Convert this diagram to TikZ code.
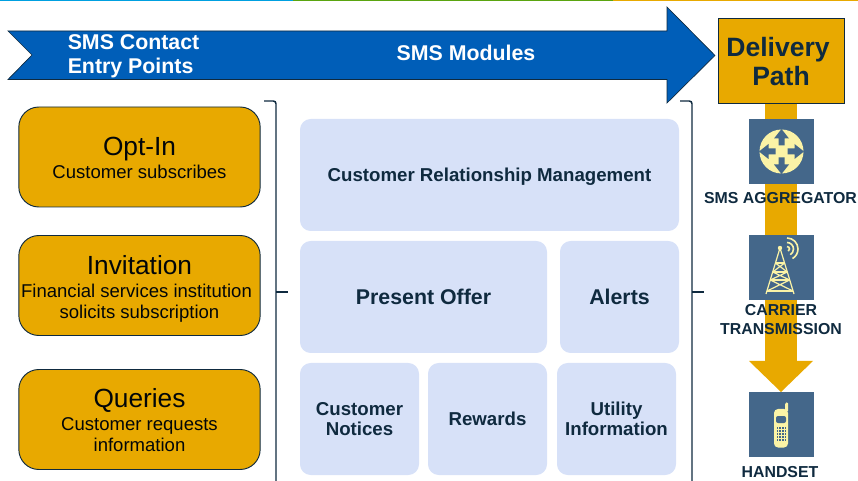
\documentclass[tikz,border=0pt]{standalone}
\usepackage{fontspec}
\setmainfont{Liberation Sans}
\usepackage{tikz}
\definecolor{amber}{HTML}{E8A900}
\definecolor{royal}{HTML}{005EB8}
\definecolor{ink}{HTML}{0F2A3F}
\definecolor{pale}{HTML}{D7E1F8}
\definecolor{slate}{HTML}{44678A}
\definecolor{cream}{HTML}{FBF3A6}
\definecolor{stripa}{HTML}{00A0E0}
\definecolor{stripb}{HTML}{5AA510}
\newcommand{\fs}[2]{\fontsize{#1pt}{#2pt}\selectfont}
\newcommand{\head}[2]{\rule{0pt}{#1}{\fs{19.7}{21}#2}\\[1.5pt]}
\tikzset{
  entrybox/.style={draw=ink,fill=amber,line width=.7pt,rounded corners=15pt,minimum width=181pt,minimum height=75pt,inner sep=0pt,align=center,text=black!85!ink,font=\fs{13.9}{15.75}},
  modulebox/.style={fill=pale,rounded corners=8pt,inner sep=0pt,align=center,text=ink,font=\bfseries\fs{14}{15}},
  iconbox/.style={fill=slate,minimum size=48.75pt,inner sep=0pt},
  caption/.style={align=center,text=ink,font=\bfseries\fs{11.9}{14.25},inner sep=0pt},
  banner/.style={text=white,font=\bfseries\fs{16}{18},align=left,inner sep=0pt}
}
\begin{document}
\begin{tikzpicture}[x=.75pt,y=-.75pt]
\useasboundingbox (0,0) rectangle (858,481);
% colour strip on top
\fill[stripa] (0,0) rectangle (293,1.3);
\fill[stripb] (293,0) rectangle (613,1.3);
\fill[amber] (613,0) rectangle (858,1.3);
% big arrow
\draw[draw=ink,fill=royal,line width=.5pt] (8,31) -- (667,31) -- (667,7) -- (715,55.5) -- (667,103) -- (667,79.5) -- (8,79.5) -- (32,55) -- cycle;
\node[banner,anchor=west] (entry) at (67.5,56) {SMS Contact\\Entry Points};
\node[banner] (modules) at (466,53) {SMS Modules};
% delivery path
\fill[amber] (765,100) rectangle (797,361);
\fill[amber] (749,361) -- (813,361) -- (781,392) -- cycle;
\node[draw=ink,fill=amber,line width=.7pt,minimum width=94.5pt,minimum height=63.75pt,inner sep=0pt,align=center,text=ink,font=\bfseries\fs{19.9}{22.2}] (delivery) at (781,60.5) {\rule{0pt}{16pt}Delivery\hspace*{4.5pt}\\Path};
% left boxes
\node[entrybox] (optin) at (139.5,157) {\head{15.5pt}{Opt-In}Customer subscribes};
\node[entrybox] (invite) at (139.5,285.5) {\head{19.5pt}{Invitation}\hspace*{-4.5pt}Financial services institution\\solicits subscription};
\node[entrybox] (queries) at (139.5,419.5) {\head{15.5pt}{Queries}Customer requests\\information};
% brackets
\draw[ink,line width=1.1pt,rounded corners=2pt] (264,101) -- (276,101) -- (276,481);
\draw[ink,line width=1.1pt] (276,292) -- (288,292);
\draw[ink,line width=1.1pt,rounded corners=2pt] (680,101) -- (692,101) -- (692,481);
\draw[ink,line width=1.1pt] (692,292) -- (704,292);
% module boxes
\node[modulebox,minimum width=284.25pt,minimum height=84pt,text depth=0pt] (crm) at (489.5,175) {Customer Relationship Management};
\node[modulebox,minimum width=185.25pt,minimum height=84pt,font=\bfseries\fs{16}{18}] (offer) at (423.5,297) {Present Offer};
\node[modulebox,minimum width=89.25pt,minimum height=84pt,font=\bfseries\fs{16}{18}] (alerts) at (619.5,297) {Alerts};
\node[modulebox,minimum width=89.25pt,minimum height=84pt] (notices) at (359.5,419) {Customer\\Notices};
\node[modulebox,minimum width=89.25pt,minimum height=84pt] (rewards) at (487.5,419) {Rewards};
\node[modulebox,minimum width=89.25pt,minimum height=84pt] (utility) at (616.5,419) {Utility\\Information};
% aggregator icon
\node[iconbox] (aggr) at (781.5,151.5) {};
\fill[cream] (aggr) circle (22);
\begin{scope}[shift={(aggr)}]
\foreach \a in {0,90,180,270}
  \fill[slate,rotate=\a] (6,-3) -- (13,-3) -- (13,-7.5) -- (22.5,0) -- (13,7.5) -- (13,3) -- (6,3) -- cycle;
\end{scope}
\node[caption] (aggrtext) at (780.5,198) {SMS AGGREGATOR};
% tower icon
\node[iconbox] (tower) at (781.5,267.5) {};
\begin{scope}[cream,line width=.9pt]
\draw (780,248) -- (766,294) (780,248) -- (794,294);
\draw (775.4,263) -- (784.6,263) (772.7,272) -- (787.3,272) (770.3,280) -- (789.7,280) (767,291) -- (793,291);
\draw (775.4,263) -- (787.3,272) (784.6,263) -- (772.7,272);
\draw (772.7,272) -- (789.7,280) (787.3,272) -- (770.3,280);
\draw (770.3,280) -- (793,291) (789.7,280) -- (767,291);
\fill (780,248) circle (2.2);
\draw[line width=1.2pt] (787,246.5) arc (-90:60:2.5);
\draw[line width=1.2pt] (787,242.5) arc (-90:60:6.5);
\draw[line width=1.2pt] (787,238) arc (-90:60:11);
\end{scope}
\node[caption] (towertext) at (781,319.5) {CARRIER\\TRANSMISSION};
% handset icon
\node[iconbox] (handset) at (781.5,424.5) {};
\fill[cream,rounded corners=1pt] (785,412) -- (785,403) -- (788,402) -- (788,412) -- cycle;
\fill[cream,rounded corners=3pt] (774,409) rectangle (788,447.5);
\fill[slate,rounded corners=1.5pt] (776,416) rectangle (786,423);
\foreach \i in {0,1,2,3}
  \foreach \j in {0,1,2,3,4}
    \fill[slate] (776.5+\i*2.7,427+\j*3) rectangle +(1.8,2);
\node[caption] (handsettext) at (780,472.5) {HANDSET};
\end{tikzpicture}
\end{document}
